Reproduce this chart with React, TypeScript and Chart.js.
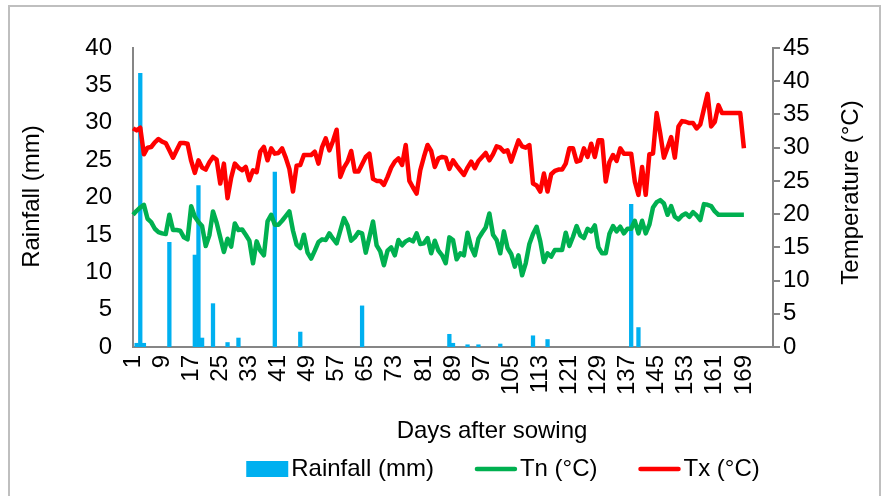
import React, { useEffect, useRef } from 'react';
import { Chart, registerables } from 'chart.js';

Chart.register(...registerables);

const FONT = "'Liberation Sans', Arial, Helvetica, sans-serif";

// Category axis: days after sowing
const DAYS: string[] = Array.from({ length: 177 }, (_, i) => String(i + 1));
// Tick labels shown on the x axis
const X_TICK_LABELS = ['1', '9', '17', '25', '33', '41', '49', '57', '65', '73', '81', '89', '97', '105', '113', '121', '129', '137', '145', '153', '161', '169'];

// Rainfall (mm): days with rain and amounts
const RAIN_DAYS = [2, 3, 4, 11, 18, 19, 20, 23, 27, 30, 40, 47, 64, 88, 89, 93, 96, 102, 111, 115, 138, 140];
const RAIN_MM = [0.5, 36.6, 0.5, 14.0, 12.3, 21.6, 1.2, 5.8, 0.6, 1.2, 23.4, 2.0, 5.5, 1.7, 0.5, 0.3, 0.3, 0.4, 1.5, 1.0, 19.1, 2.6];

// Minimum temperature Tn (°C), days 1..169
const TN = [
  19.9, 20.5, 21.0, 21.4, 19.3, 18.8, 17.8, 17.3, 17.1, 17.0,
  19.9, 17.6, 17.6, 17.5, 16.5, 16.2, 21.2, 19.6, 18.8, 18.2,
  15.2, 16.8, 20.4, 18.7, 16.5, 14.3, 16.3, 15.1, 18.6, 17.6,
  17.7, 16.9, 16.0, 12.6, 15.9, 14.5, 13.8, 18.9, 19.9, 18.4,
  18.4, 19.0, 19.7, 20.4, 17.5, 15.4, 14.9, 16.9, 14.2, 13.3,
  14.5, 15.8, 16.2, 16.1, 17.1, 16.3, 15.6, 17.5, 19.4, 18.3,
  16.0, 16.5, 17.3, 17.1, 14.2, 16.5, 18.9, 15.3, 14.4, 12.3,
  14.5, 15.0, 13.8, 16.1, 15.3, 15.9, 16.2, 15.9, 17.1, 15.5,
  15.6, 16.4, 14.1, 16.0, 14.5, 13.8, 12.6, 16.5, 16.1, 13.2,
  14.1, 13.8, 17.2, 15.0, 13.8, 16.3, 17.2, 18.0, 20.1, 16.9,
  16.1, 14.1, 17.4, 14.9, 14.0, 12.1, 13.8, 10.8, 12.6, 15.5,
  17.0, 18.1, 15.9, 12.8, 14.1, 13.6, 14.6, 14.6, 14.6, 17.2,
  15.2, 16.6, 18.2, 16.8, 16.4, 17.8, 17.4, 18.3, 15.0, 14.1,
  14.1, 17.0, 18.2, 17.4, 18.1, 17.1, 17.8, 17.8, 19.0, 17.1,
  19.0, 17.1, 18.4, 21.0, 21.8, 22.1, 21.6, 19.9, 21.2, 19.6,
  19.2, 19.8, 20.1, 19.6, 20.3, 19.8, 19.1, 21.5, 21.4, 21.2,
  20.4, 19.9, 19.9, 19.9, 19.9, 19.9, 19.9, 19.9, 19.9,
];

// Maximum temperature Tx (°C), days 1..169
const TX = [
  32.9, 32.6, 33.0, 29.0, 30.0, 30.1, 30.8, 31.3, 30.9, 30.7,
  29.6, 28.5, 29.6, 30.7, 30.7, 30.6, 28.0, 26.2, 28.1, 27.0,
  26.7, 27.8, 28.6, 28.2, 24.6, 27.6, 22.4, 25.5, 27.6, 27.0,
  26.6, 27.1, 25.1, 26.6, 26.3, 29.4, 30.1, 28.1, 29.9, 29.1,
  29.2, 29.9, 28.5, 26.8, 23.4, 27.3, 27.4, 28.9, 28.9, 28.9,
  29.4, 27.6, 30.1, 31.4, 29.6, 31.0, 32.7, 25.6, 27.0, 27.9,
  29.5, 26.4, 26.4, 27.5, 28.6, 29.1, 25.3, 25.0, 25.0, 24.4,
  25.6, 27.0, 27.9, 28.4, 27.4, 30.4, 25.0, 24.0, 23.1, 26.6,
  28.6, 30.4, 29.5, 27.1, 28.4, 28.6, 28.5, 26.8, 28.1, 27.3,
  26.6, 25.9, 27.0, 27.9, 26.9, 28.0, 28.6, 29.2, 28.1, 29.0,
  30.2, 30.0, 29.4, 29.6, 27.9, 29.5, 31.1, 30.2, 30.0, 30.4,
  24.6, 24.3, 23.4, 26.1, 23.4, 26.0, 26.5, 26.7, 26.7, 27.6,
  29.9, 29.9, 27.9, 28.1, 29.9, 28.6, 30.6, 28.6, 31.1, 31.1,
  24.9, 27.8, 28.9, 28.0, 29.9, 29.1, 29.1, 29.1, 24.9, 22.9,
  27.1, 22.9, 29.0, 29.1, 35.2, 32.1, 28.5, 30.0, 31.6, 28.5,
  33.2, 34.0, 33.9, 33.7, 33.7, 32.9, 33.5, 35.8, 38.1, 33.2,
  33.9, 36.4, 35.2, 35.2, 35.2, 35.2, 35.2, 35.2, 29.9,
];

const RAIN_COLOR = '#00B0F0';
const TN_COLOR = '#00B050';
const TX_COLOR = '#FF0000';
const AXIS_COLOR = '#868686';

const overlayPlugin = {
  id: 'overlay',
  afterDraw(chart: any) {
    const ctx = chart.ctx as CanvasRenderingContext2D;
    const { top, bottom } = chart.chartArea;
    const midY = (top + bottom) / 2;
    ctx.save();
    ctx.fillStyle = '#000';
    ctx.font = `24px ${FONT}`;
    ctx.textAlign = 'center';
    ctx.textBaseline = 'middle';

    ctx.save();
    ctx.translate(32, midY - 1);
    ctx.rotate(-Math.PI / 2);
    ctx.fillText('Rainfall (mm)', 0, 0);
    ctx.restore();

    ctx.save();
    ctx.translate(851, midY - 5);
    ctx.rotate(-Math.PI / 2);
    ctx.fillText('Temperature (°C)', 0, 0);
    ctx.restore();

    ctx.fillText('Days after sowing', 492, 431);

    // Legend
    const items = chart.data.datasets.map((ds: any) => ({
      label: ds.label as string,
      kind: ds.type as string,
      color: (ds.type === 'bar' ? ds.backgroundColor : ds.borderColor) as string,
    }));
    const symW = 42;
    const gapText = 3;
    const gapItem = 41;
    const widths = items.map((it: any) => ctx.measureText(it.label).width);
    const total = widths.reduce((a: number, b: number) => a + b, 0) + items.length * (symW + gapText) + gapItem * (items.length - 1);
    let x = 503 - total / 2;
    const cy = 469;
    ctx.textAlign = 'left';
    items.forEach((it: any, i: number) => {
      if (it.kind === 'bar') {
        ctx.fillStyle = it.color;
        ctx.fillRect(x, cy - 8, symW, 16);
      } else {
        ctx.strokeStyle = it.color;
        ctx.lineWidth = 4.5;
        ctx.lineCap = 'round';
        ctx.beginPath();
        ctx.moveTo(x + 2, cy);
        ctx.lineTo(x + symW - 2, cy);
        ctx.stroke();
      }
      ctx.fillStyle = '#000';
      ctx.fillText(it.label, x + symW + gapText, cy);
      x += symW + gapText + widths[i] + gapItem;
    });
    ctx.restore();
  },
};

export default function App() {
  const canvasRef = useRef<HTMLCanvasElement | null>(null);

  useEffect(() => {
    const canvas = canvasRef.current;
    if (!canvas) return;
    const rainData = DAYS.map((d) => {
      const idx = RAIN_DAYS.indexOf(Number(d));
      return idx >= 0 ? RAIN_MM[idx] : null;
    });
    const tickFont = { size: 24, family: FONT };
    const chart = new Chart(canvas, {
      data: {
        labels: DAYS,
        datasets: [
          {
            type: 'bar',
            label: 'Rainfall (mm)',
            data: rainData,
            backgroundColor: RAIN_COLOR,
            borderWidth: 0,
            yAxisID: 'y',
            order: 3,
            categoryPercentage: 1,
            barPercentage: 1,
          },
          {
            type: 'line',
            label: 'Tn (°C)',
            data: TN,
            borderColor: TN_COLOR,
            backgroundColor: TN_COLOR,
            borderWidth: 4.5,
            pointRadius: 0,
            tension: 0,
            borderJoinStyle: 'round',
            yAxisID: 'y1',
            order: 2,
          },
          {
            type: 'line',
            label: 'Tx (°C)',
            data: TX,
            borderColor: TX_COLOR,
            backgroundColor: TX_COLOR,
            borderWidth: 4.5,
            pointRadius: 0,
            tension: 0,
            borderJoinStyle: 'round',
            yAxisID: 'y1',
            order: 1,
          },
        ],
      } as any,
      options: {
        responsive: false,
        animation: false,
        devicePixelRatio: 1,
        layout: { padding: { top: 48, left: 0, right: 0, bottom: 0 } },
        plugins: { legend: { display: false }, tooltip: { enabled: false } },
        scales: {
          x: {
            type: 'category',
            offset: false,
            grid: { display: false, drawTicks: false },
            border: { display: true, color: AXIS_COLOR, width: 2 },
            ticks: {
              autoSkip: false,
              maxRotation: 90,
              minRotation: 90,
              padding: 8,
              color: '#000',
              font: tickFont,
              callback: (_v: any, i: number) => (X_TICK_LABELS.includes(DAYS[i]) ? DAYS[i] : ''),
            },
            afterFit: (s: any) => { s.height = 149; },
          },
          y: {
            position: 'left',
            min: 0,
            max: 40,
            grid: { display: false, drawTicks: false },
            border: { display: true, color: AXIS_COLOR, width: 2 },
            ticks: { stepSize: 5, padding: 21, color: '#000', font: tickFont },
            afterFit: (s: any) => { s.width = 133; },
          },
          y1: {
            position: 'right',
            min: 0,
            max: 45,
            grid: { display: true, drawOnChartArea: false, drawTicks: true, tickLength: 7, color: AXIS_COLOR, lineWidth: 2 },
            border: { display: true, color: AXIS_COLOR, width: 2 },
            ticks: { stepSize: 5, padding: 3, color: '#000', font: tickFont },
            afterFit: (s: any) => { s.width = 110; },
          },
        },
      } as any,
      plugins: [overlayPlugin],
    });
    return () => chart.destroy();
  }, []);

  return (
    <div style={{ position: 'fixed', left: 0, top: 0, width: 883, height: 496, overflow: 'hidden', background: '#fff' }}>
      <div
        style={{
          position: 'absolute',
          left: 8,
          top: 5,
          width: 873,
          height: 500,
          border: '2px solid #BFBFBF',
          boxSizing: 'border-box',
        }}
      />
      <canvas ref={canvasRef} width={883} height={496} style={{ position: 'absolute', left: 0, top: 0 }} />
    </div>
  );
}
